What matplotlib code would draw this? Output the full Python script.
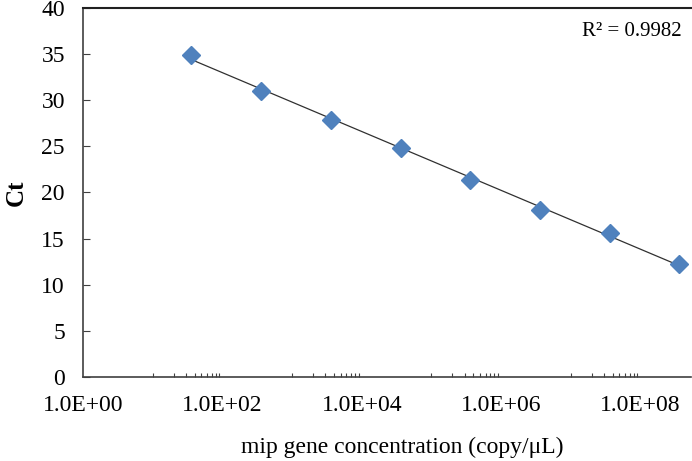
import numpy as np
import matplotlib
matplotlib.use("Agg")
from matplotlib import pyplot as plt
from matplotlib.ticker import FixedLocator, NullFormatter

# standard curve data
conc = [3.6e1, 3.6e2, 3.6e3, 3.6e4, 3.6e5, 3.6e6, 3.6e7, 3.6e8]
ct = [34.9, 31.0, 27.8, 24.8, 21.4, 18.1, 15.6, 12.3]
r2_text = "R\u00b2 = 0.9982"
x_labels = ["1.0E+00", "1.0E+02", "1.0E+04", "1.0E+06", "1.0E+08"]

plt.rcParams['font.family'] = ['Liberation Serif', 'DejaVu Serif']

fig = plt.figure(figsize=(6.92, 4.61), dpi=100)
ax = fig.add_axes([0.12, 0.182, 0.878, 0.801])

# linear trend of Ct vs log10(concentration)
logx = np.log10(conc)
slope, icpt = np.polyfit(logx, ct, 1)
fit_x = np.array([conc[0], conc[-1]])
ax.plot(fit_x, slope * np.log10(fit_x) + icpt, color='#303030', lw=0.9, zorder=2)
ax.plot(conc, ct, linestyle='none', marker='D', markersize=9.5,
        color='#4F81BD', markeredgecolor='#4F81BD', zorder=3)

ax.set_xscale('log')
ax.set_xlim(1, 10 ** 8.72)
ax.set_ylim(0, 40)

major = [10 ** k for k in range(0, 9, 2)]
ax.xaxis.set_major_locator(FixedLocator(major))
ax.set_xticklabels(x_labels)
minor = []
for k in range(1, 9, 2):
    minor += [m * 10 ** k for m in range(1, 10)] + [10 ** (k + 1)]
ax.xaxis.set_minor_locator(FixedLocator(minor))
ax.xaxis.set_minor_formatter(NullFormatter())
ax.tick_params(axis='x', which='major', length=0, pad=13, labelsize=17)
ax.tick_params(axis='x', which='minor', direction='in', length=3, width=0.8, color='#404040')
ax.set_yticks(range(0, 41, 5))
ax.tick_params(axis='y', direction='in', length=5, width=0.8, pad=13, labelsize=17, color='#404040')

for side in ['left', 'bottom']:
    ax.spines[side].set_color('#404040')
    ax.spines[side].set_linewidth(1.2)
ax.spines['top'].set_color('#202020')
ax.spines['top'].set_linewidth(1.5)
ax.spines['right'].set_visible(False)

ax.set_xlabel("mip gene concentration (copy/\u03bcL)", fontsize=17)
ax.xaxis.set_label_coords(0.525, -0.163)
ax.set_ylabel("Ct", fontsize=18, fontweight='bold', labelpad=10)
ax.text(0.985, 0.935, r2_text, transform=ax.transAxes, ha='right', va='center', fontsize=15)

fig.savefig("out.png", dpi=100)
